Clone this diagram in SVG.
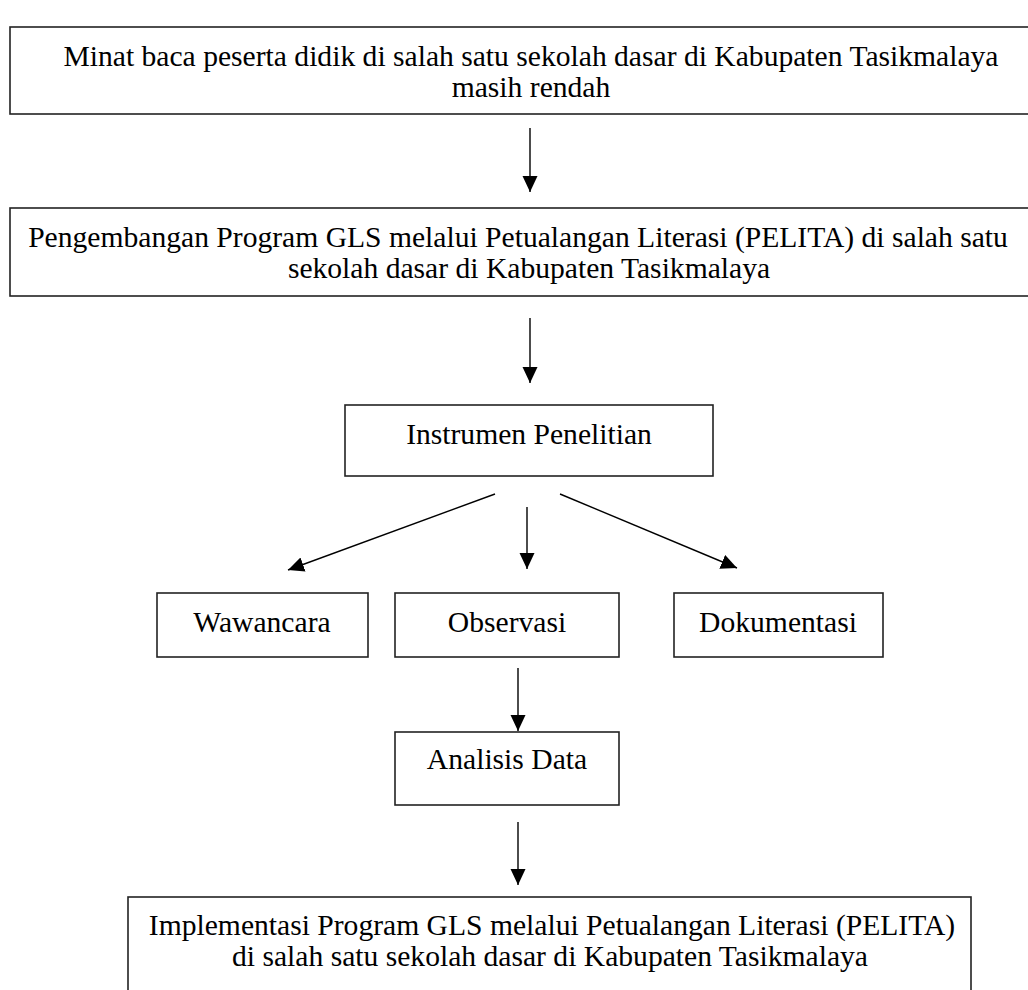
<svg xmlns="http://www.w3.org/2000/svg" width="1028" height="990" viewBox="0 0 1028 990">
<style>
.box{fill:#fff;stroke:#222;stroke-width:1.6}
.t{font-family:"Liberation Serif","Times New Roman",serif;font-size:29.6px;fill:#000;text-anchor:middle}
.c{stroke:#000;stroke-width:1.4;fill:none;marker-end:url(#ah)}
</style>
<defs>
<marker id="ah" markerUnits="userSpaceOnUse" markerWidth="16" markerHeight="16" viewBox="0 0 16 16" refX="16" refY="8" orient="auto">
<path d="M0,0.5 L16,8 L0,15.5 Z" fill="#000"/>
</marker>
</defs>
<rect width="1028" height="990" fill="#fff"/>
<g id="n1"><rect class="box" x="10" y="27" width="1030" height="87"/>
<text class="t" x="531" y="66">Minat baca peserta didik di salah satu sekolah dasar di Kabupaten Tasikmalaya</text>
<text class="t" x="531" y="97">masih rendah</text></g>
<g id="n2"><rect class="box" x="10" y="208" width="1030" height="88"/>
<text class="t" x="518" y="247">Pengembangan Program GLS melalui Petualangan Literasi (PELITA) di salah satu</text>
<text class="t" x="529" y="278">sekolah dasar di Kabupaten Tasikmalaya</text></g>
<g id="n3"><rect class="box" x="345" y="405" width="368" height="71"/>
<text class="t" x="529" y="444">Instrumen Penelitian</text></g>
<g id="n4"><rect class="box" x="157" y="593" width="211" height="64"/>
<text class="t" x="262" y="632">Wawancara</text></g>
<g id="n5"><rect class="box" x="395" y="593" width="224" height="64"/>
<text class="t" x="507" y="632">Observasi</text></g>
<g id="n6"><rect class="box" x="674" y="593" width="209" height="64"/>
<text class="t" x="778" y="632">Dokumentasi</text></g>
<g id="n7"><rect class="box" x="395" y="732" width="224" height="73"/>
<text class="t" x="507" y="769">Analisis Data</text></g>
<g id="n8"><rect class="box" x="128" y="897" width="843" height="100"/>
<text class="t" x="552" y="935">Implementasi Program GLS melalui Petualangan Literasi (PELITA)</text>
<text class="t" x="550" y="966">di salah satu sekolah dasar di Kabupaten Tasikmalaya</text></g>
<g id="connectors">
<line class="c" x1="530" y1="128" x2="530" y2="192"/>
<line class="c" x1="530" y1="318" x2="530" y2="383"/>
<line class="c" x1="495" y1="494" x2="288" y2="570"/>
<line class="c" x1="527" y1="507" x2="527" y2="569"/>
<line class="c" x1="560" y1="494" x2="737" y2="568"/>
<line class="c" x1="518" y1="668" x2="518" y2="731"/>
<line class="c" x1="518" y1="822" x2="518" y2="885"/>
</g>
</svg>
